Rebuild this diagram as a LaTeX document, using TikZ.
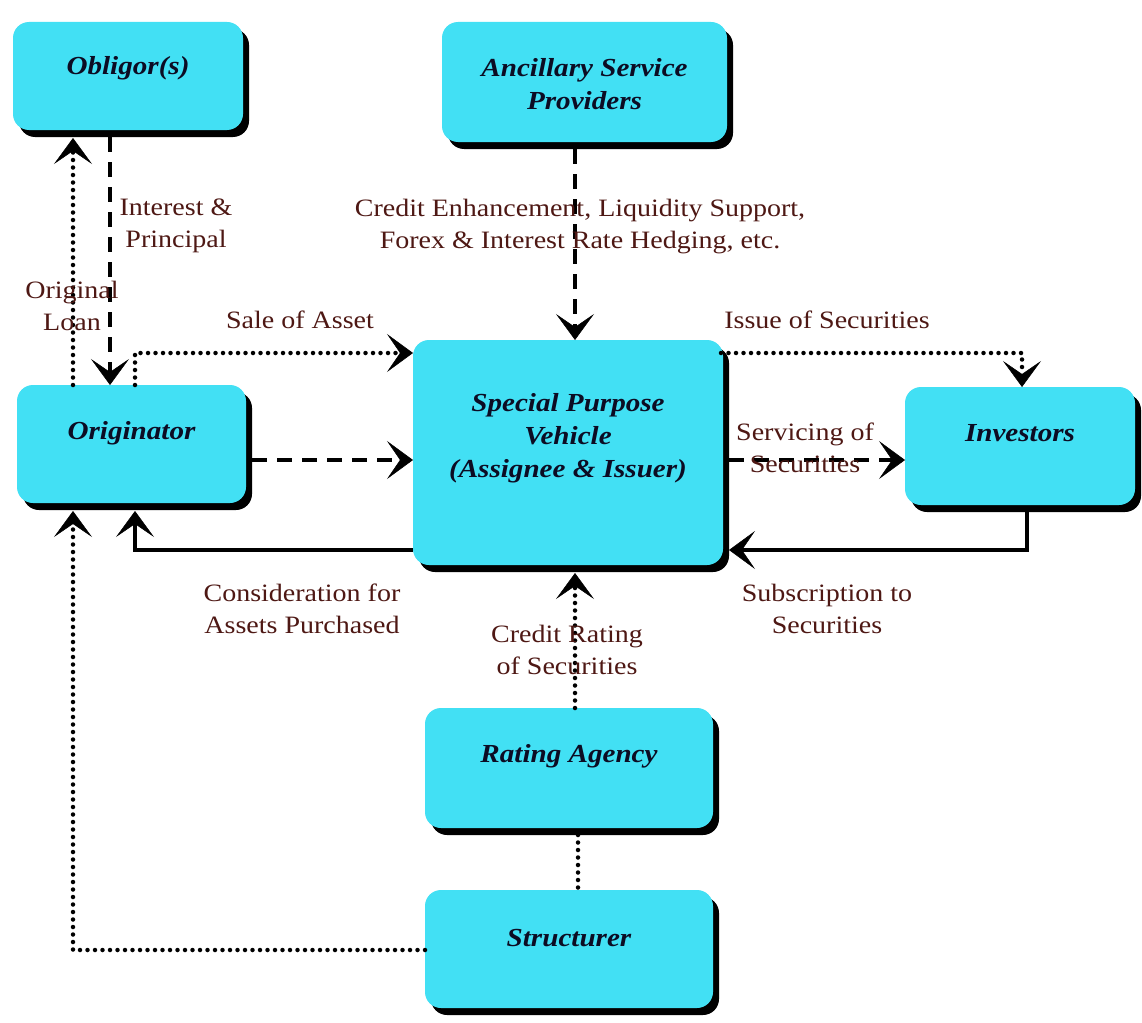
\documentclass[tikz,border=0pt]{standalone}
\usepackage{fontspec}
\setmainfont[FakeStretch=1.12]{Liberation Serif}
\usetikzlibrary{arrows.meta,shadows,calc}
\definecolor{boxcyan}{RGB}{66,224,244}
\definecolor{lbl}{RGB}{78,24,20}
\definecolor{boxtext}{RGB}{12,12,35}
\begin{document}
\begin{tikzpicture}[x=1pt,y=-1pt,
  box/.style={fill=boxcyan, rounded corners=16pt, inner sep=0pt, outer sep=0pt,
    drop shadow={shadow xshift=6pt, shadow yshift=-7pt, opacity=1, fill=black}},
  btxt/.style={align=center, text=boxtext, font=\fontsize{26}{33}\selectfont\bfseries\itshape},
  lab/.style={align=center, text=lbl, font=\fontsize{25}{32}\selectfont},
  arw/.style={-{Stealth[length=26pt,width=38pt,inset=13pt,line width=0.5pt]}},
  dsh/.style={line width=4pt, dash pattern=on 15pt off 10pt},
  dtt/.style={line width=4.5pt, line cap=round, dash pattern=on 0pt off 7.5pt},
  sld/.style={line width=3.5pt}]
\useasboundingbox (0,0) rectangle (1142,1022);
\fill[white] (0,0) rectangle (1142,1022);

% boxes
\node[box, minimum width=230pt, minimum height=108pt] (obl) at (128,76) {};
\node[box, minimum width=285pt, minimum height=120pt] (anc) at (584.5,82) {};
\node[box, minimum width=229pt, minimum height=118pt] (orig) at (131.5,444) {};
\node[box, minimum width=310pt, minimum height=225pt] (spv) at (568,452.5) {};
\node[box, minimum width=230pt, minimum height=118pt] (inv) at (1020,446) {};
\node[box, minimum width=288pt, minimum height=120pt] (rat) at (569,768) {};
\node[box, minimum width=288pt, minimum height=118pt] (str) at (569,949) {};

% box texts
\node[btxt] (toblt) at ($(obl.center)+(0,-8)$) {Obligor(s)};
\node[btxt] (tanc) at ($(anc.center)+(0,2)$) {Ancillary Service\\Providers};
\node[btxt] (torig) at ($(orig.center)+(0,-11)$) {Originator};
\node[btxt] (tspv) at ($(spv.center)+(0,-14)$) {Special Purpose\\Vehicle\\(Assignee \& Issuer)};
\node[btxt] (tinv) at ($(inv.center)+(0,-13)$) {Investors};
\node[btxt] (trat) at ($(rat.center)+(0,-12)$) {Rating Agency};
\node[btxt] (tstr) at ($(str.center)+(0,-11)$) {Structurer};

% connectors
\coordinate (a1) at ($(obl.south)+(-18,7)$);
\draw[dsh,arw] (a1) -- (a1 |- orig.north);

\coordinate (a2) at ($(orig.north)+(-58.5,0)$);
\draw[dtt,arw] (a2) -- ($(a2 |- obl.south)+(0,8)$);

\coordinate (a3) at ($(orig.north)+(3.5,0)$);
\draw[dtt,arw] (a3) |- ($(spv.north west)+(0,13)$);

\coordinate (a4) at ($(orig.east)+(6,16)$);
\draw[dsh,arw] (a4) -- (a4 -| spv.west);

\coordinate (a5) at ($(spv.west)+(0,97.5)$);
\draw[sld,arw] (a5) -| ($(a3 |- orig.south)+(0,8)$);

\coordinate (a6) at ($(str.west)+(0,1)$);
\draw[dtt,arw] (a6) -| ($(a2 |- orig.south)+(0,8)$);

\coordinate (a7) at ($(anc.south)+(-9.5,7)$);
\draw[dsh,arw] (a7) -- (a7 |- spv.north);

\coordinate (a8) at ($(spv.north east)+(-2,13)$);
\coordinate (a8b) at ($(inv.north)+(2,0)$);
\draw[dtt,arw] (a8) -| (a8b);

\coordinate (a9) at ($(spv.east)+(6,7.5)$);
\draw[dsh,arw] (a9) -- (a9 -| inv.west);

\coordinate (a10) at ($(inv.south)+(7,7)$);
\draw[sld,arw] (a10) |- ($(spv.east)+(6,97.5)$);

\coordinate (a11) at ($(rat.north)+(6,0)$);
\draw[dtt,arw] (a11) -- ($(a11 |- spv.south)+(0,8)$);

\coordinate (a12) at ($(rat.south)+(9,7)$);
\draw[dtt] (a12) -- (a12 |- str.north);

% labels
\node[lab] (l1) at (176,226) {Interest \&\\Principal};
\node[lab] (l2) at (72,306) {Original\\Loan};
\node[lab] (l3) at (300,320) {Sale of Asset};
\node[lab] (l4) at (580,227) {Credit Enhancement, Liquidity Support,\\Forex \& Interest Rate Hedging, etc.};
\node[lab] (l5) at (827,320) {Issue of Securities};
\node[lab] (l6) at (805,448) {Servicing of\\Securities};
\node[lab] (l7) at (302,609) {Consideration for\\Assets Purchased};
\node[lab] (l8) at (827,609) {Subscription to\\Securities};
\node[lab] (l9) at (567,650) {Credit Rating\\of Securities};
\end{tikzpicture}
\end{document}
